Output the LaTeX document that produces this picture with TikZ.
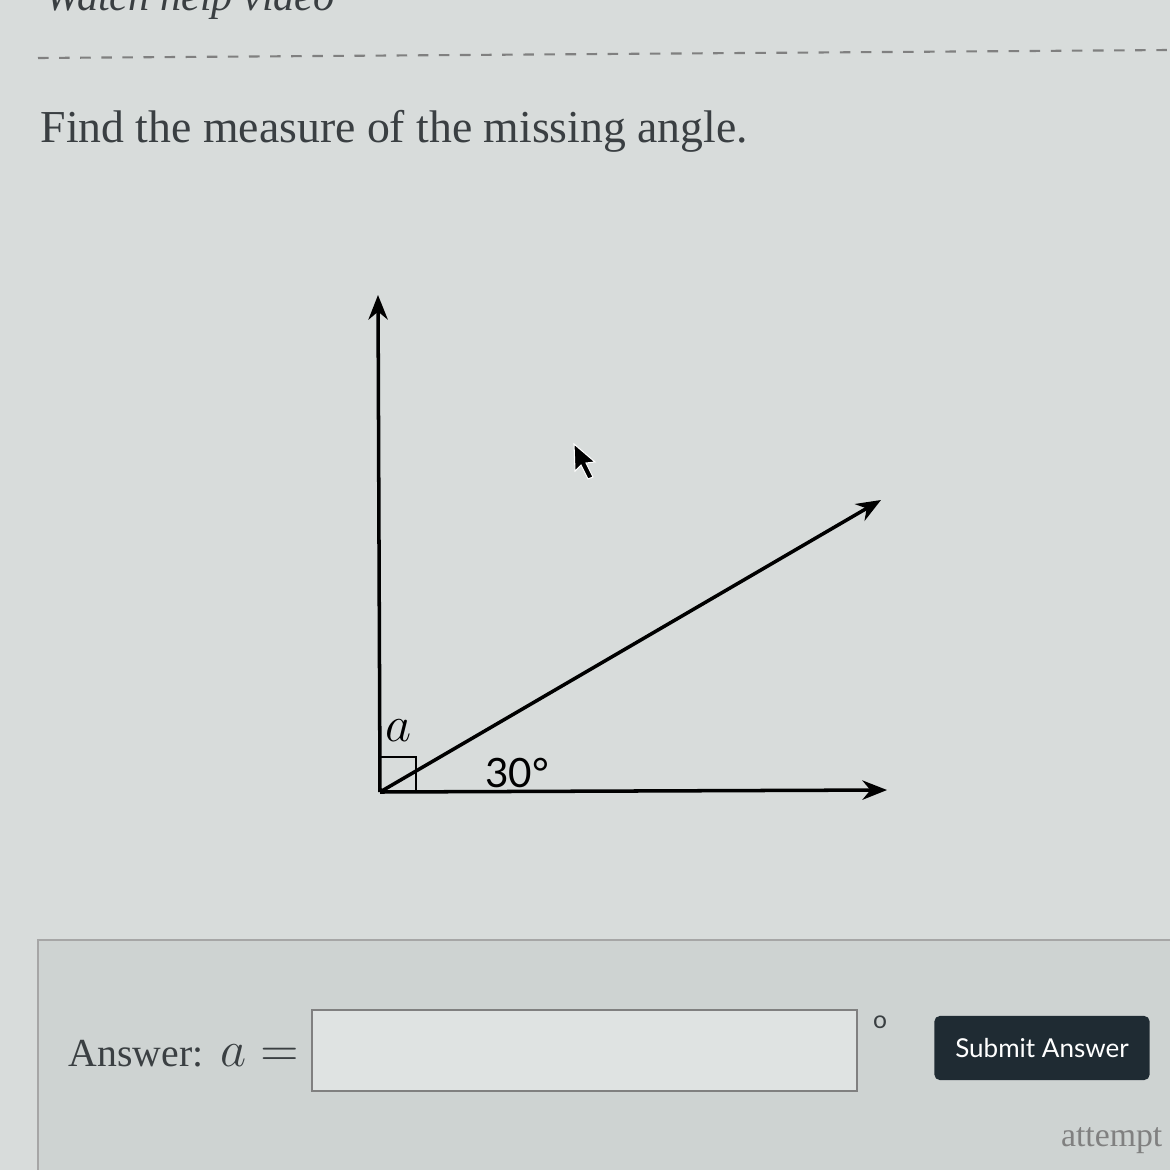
\documentclass[tikz,border=0pt]{standalone}
\usepackage{fontspec}
\setmainfont{Liberation Serif}
\newfontfamily\labelfont{Lato}
\usepackage[svgnames]{xcolor}
\usetikzlibrary{arrows.meta, calc}
\definecolor{screen}{HTML}{D8DCDB}
\definecolor{panel}{HTML}{CED3D2}
\definecolor{inputbg}{HTML}{DFE3E2}
\definecolor{buttonbg}{HTML}{1F2B33}
\definecolor{inktext}{HTML}{3A3F42}

\begin{document}
\begin{tikzpicture}[x=0.01cm, y=-0.01cm,
  ray/.style={line width=1pt, -{Stealth[length=7pt, width=5.5pt]}},
  qtext/.style={anchor=base west, inner sep=0pt, text=inktext}]
\useasboundingbox (0,0) rectangle (1170,1170);
\fill[screen] (0,0) rectangle (1170,1170);

% header
\node[qtext, font=\fontsize{12}{14}\selectfont\itshape] (help) at (45,11) {Watch help video};
\draw[dashed, Gray, line width=0.6pt] (38,58) -- (1170,50);
\node[qtext, font=\fontsize{13}{15}\selectfont] (question) at (40,143) {Find the measure of the missing angle.};

% the angle
\coordinate (O) at (380,792);
\coordinate (V) at (378,295);
\coordinate (H) at (887,790);
\coordinate (D) at (881,500);
\draw[ray] (O) -- (V);
\draw[ray] (O) -- (H);
\draw[ray] (O) -- (D);
\draw[line width=0.8pt] ($(O)+(0,-35)$) -- ++(36,0) -- ++(0,35);
\node[anchor=base west, inner sep=0pt, font=\fontsize{14}{16}\selectfont] (a) at (385,741) {$a$};
\node[anchor=base, inner sep=0pt, font=\labelfont\fontsize{11.5}{14}\selectfont] (thirty) at (517,787) {30\textdegree};

% cursor
\filldraw[fill=black, draw=white, line width=0.3pt]
  (574,444) -- (575,471) -- (581,465) -- (588,479) -- (593,477) -- (586,463) -- (595,462) -- cycle;

% answer panel
\draw[fill=panel, draw=Gray!70, line width=0.6pt] (38,940) rectangle (1175,1175);
\node[qtext, font=\fontsize{11.3}{14}\selectfont] (answer) at (68,1066) {Answer:};
\node[qtext, font=\fontsize{14}{16}\selectfont] (aeq) at (220,1066) {$a=$};
\draw[fill=inputbg, draw=Gray, line width=0.7pt] (312,1010) rectangle (857,1091);
\node[anchor=center, inner sep=0pt, font=\labelfont\fontsize{7}{8}\selectfont, text=inktext] (deg) at (880,1022) {o};
\node[fill=buttonbg, rounded corners=1.5pt, minimum width=2.15cm, minimum height=0.64cm,
  text=white, font=\labelfont\fontsize{7.4}{9}\selectfont, inner sep=0pt] (submit) at (1042,1048) {Submit Answer};
\node[anchor=base east, inner sep=0pt, text=Gray, font=\fontsize{9.6}{12}\selectfont] (attempt) at (1163,1146) {attempt};
\end{tikzpicture}
\end{document}
